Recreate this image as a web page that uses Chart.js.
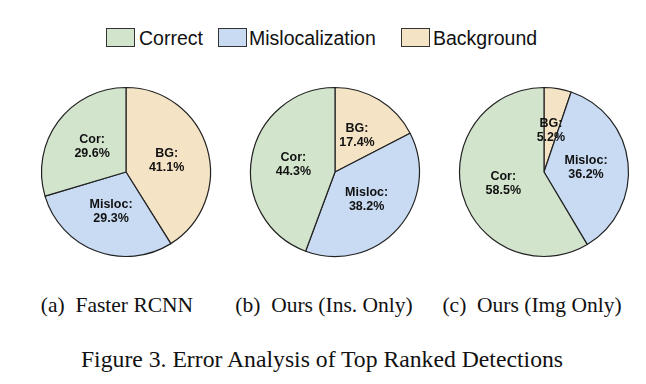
<!DOCTYPE html>
<html>
<head>
<meta charset="utf-8">
<script src="https://cdn.jsdelivr.net/npm/chart.js@4.4.1/dist/chart.umd.min.js"></script>
<style>
  html, body { margin: 0; padding: 0; background: #fff; }
  #stage { position: relative; width: 646px; height: 384px; overflow: hidden; background: #fff; }
  .pie { position: absolute; width: 200px; height: 200px; }
  .lg-box { position: absolute; width: 27px; height: 17px; border: 1px solid #333; }
  .lg-txt { position: absolute; font-family: "Liberation Sans", Arial, sans-serif; font-size: 19.5px; color: #111; line-height: 20px; white-space: nowrap; }
  .sub { position: absolute; font-family: "Liberation Serif", "Times New Roman", serif; font-size: 21.5px; color: #111; white-space: pre; transform: translateX(-50%); line-height: 22px; }
  .cap { position: absolute; left: 322px; transform: translateX(-50%); font-family: "Liberation Serif", "Times New Roman", serif; font-size: 23.7px; color: #111; white-space: nowrap; line-height: 28px; }
</style>
</head>
<body>
<div id="stage">
  <div class="pie" style="left:26px;top:72px"><canvas id="p0" width="200" height="200"></canvas></div>
  <div class="pie" style="left:235px;top:72px"><canvas id="p1" width="200" height="200"></canvas></div>
  <div class="pie" style="left:444px;top:72px"><canvas id="p2" width="200" height="200"></canvas></div>
</div>
<script>
// ---- data ----
const categories = ['Correct', 'Mislocalization', 'Background'];
const shortLabels = ['Cor', 'Misloc', 'BG'];
const panelTitles = ['(a)  Faster RCNN', '(b)  Ours (Ins. Only)', '(c)  Ours (Img Only)'];
const fasterRCNN = [29.6, 29.3, 41.1];   // Correct, Mislocalization, Background
const oursInsOnly = [44.3, 38.2, 17.4];
const oursImgOnly = [58.5, 36.2, 5.2];
const figureCaption = 'Figure 3. Error Analysis of Top Ranked Detections';

// ---- style ----
const colors = ['#d3e4cd', '#c8dbf3', '#f5e3c5'];
const drawOrder = [2, 1, 0]; // clockwise from top: Background, Mislocalization, Correct

const stage = document.getElementById('stage');

// legend (HTML)
const legendBoxX = [106, 218, 401];
const legendTxtX = [139, 249, 433];
categories.forEach((c, i) => {
  const b = document.createElement('div');
  b.className = 'lg-box';
  b.style.left = legendBoxX[i] + 'px';
  b.style.top = '28px';
  b.style.background = colors[i];
  stage.appendChild(b);
  const t = document.createElement('div');
  t.className = 'lg-txt';
  t.style.left = legendTxtX[i] + 'px';
  t.style.top = '28px';
  t.textContent = c;
  stage.appendChild(t);
});

// subcaptions
const subCenters = [117, 324, 532];
panelTitles.forEach((s, i) => {
  const d = document.createElement('div');
  d.className = 'sub';
  d.style.left = subCenters[i] + 'px';
  d.style.top = '294px';
  d.textContent = s;
  stage.appendChild(d);
});
const cap = document.createElement('div');
cap.className = 'cap';
cap.style.top = '345px';
cap.textContent = figureCaption;
stage.appendChild(cap);

// slice labels plugin
const sliceLabels = {
  id: 'sliceLabels',
  afterDatasetsDraw(chart) {
    const ctx = chart.ctx;
    const meta = chart.getDatasetMeta(0);
    const ds = chart.data.datasets[0];
    ctx.save();
    ctx.font = 'bold 12.5px "Liberation Sans", Arial, sans-serif';
    ctx.fillStyle = '#111';
    ctx.textAlign = 'center';
    ctx.textBaseline = 'middle';
    meta.data.forEach((arc, j) => {
      const p = arc.getProps(['x', 'y', 'startAngle', 'endAngle', 'outerRadius'], true);
      const mid = (p.startAngle + p.endAngle) / 2;
      const r = p.outerRadius * 0.5;
      const x = p.x + Math.cos(mid) * r;
      const y = p.y + Math.sin(mid) * r;
      ctx.fillText(ds.shortLabels[j] + ':', x, y - 7);
      ctx.fillText(ds.data[j].toFixed(1) + '%', x, y + 7);
    });
    ctx.restore();
  }
};

[fasterRCNN, oursInsOnly, oursImgOnly].forEach((vals, i) => {
  new Chart(document.getElementById('p' + i), {
    type: 'pie',
    data: {
      labels: drawOrder.map(k => categories[k]),
      datasets: [{
        data: drawOrder.map(k => vals[k]),
        shortLabels: drawOrder.map(k => shortLabels[k]),
        backgroundColor: drawOrder.map(k => colors[k]),
        borderColor: '#222',
        borderWidth: 1.2,
        radius: 84.5
      }]
    },
    options: {
      responsive: false,
      animation: false,
      layout: { padding: 0 },
      plugins: { legend: { display: false }, tooltip: { enabled: false } }
    },
    plugins: [sliceLabels]
  });
});
</script>
</body>
</html>
